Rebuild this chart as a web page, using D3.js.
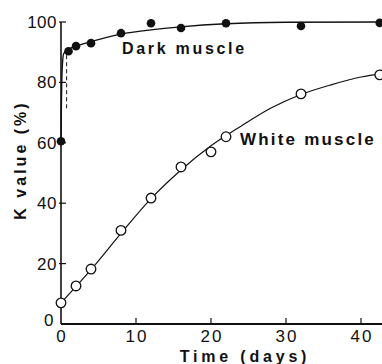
<!DOCTYPE html>
<html>
<head>
<meta charset="utf-8">
<script src="https://cdn.jsdelivr.net/npm/d3@7"></script>
<style>
  body { margin: 0; background: #fff; }
  text { font-family: "Liberation Sans", Arial, sans-serif; fill: #111; }
</style>
</head>
<body>
<div id="chart"></div>
<script>
// measured points (days, K value %)
const darkDays = [0, 1, 2, 4, 8, 12, 16, 22, 32, 42.5];
const darkValues = [60.5, 90.3, 92, 93, 96.3, 99.6, 98, 99.6, 98.7, 99.7];
const whiteDays = [0, 2, 4, 8, 12, 16, 20, 22, 32, 42.5];
const whiteValues = [7, 12.6, 18.2, 31, 41.7, 52, 57, 62, 76.2, 82.5];

// fitted curves as drawn in the figure
const darkFitDays = [0, 0.05, 0.15, 0.35, 1, 2, 4, 8, 12, 16, 22, 30, 43];
const darkFitValues = [60.5, 72, 84, 89.5, 91, 92, 93.5, 96, 97.4, 98.4, 99.4, 99.9, 100];
const whiteFitDays = [0, 4, 8, 12, 16, 20, 24, 28, 32, 36, 40, 43];
const whiteFitValues = [7, 18, 30, 41.5, 51, 59, 65.5, 71.5, 76, 79.2, 81.8, 83];

// dashed segment near day 1
const dashDays = [0.75, 0.75];
const dashValues = [89, 71];

const xTicks = [0, 10, 20, 30, 40];
const yTicks = [0, 20, 40, 60, 80, 100];

const width = 382, height = 364;
const margin = { top: 22, right: 0, bottom: 40, left: 61 };

const svg = d3.select("#chart").append("svg")
    .attr("width", width)
    .attr("height", height);

const x = d3.scaleLinear().domain([0, 10]).range([margin.left, margin.left + 75]);
const y = d3.scaleLinear().domain([0, 100]).range([height - margin.bottom, margin.top]);

// axes
svg.append("line")
    .attr("x1", x(0)).attr("x2", width)
    .attr("y1", y(0)).attr("y2", y(0))
    .attr("stroke", "#111").attr("stroke-width", 2);
svg.append("line")
    .attr("x1", x(0)).attr("x2", x(0))
    .attr("y1", y(0)).attr("y2", y(100))
    .attr("stroke", "#111").attr("stroke-width", 1.6);

svg.selectAll(".xtick").data(xTicks.slice(1)).enter().append("line")
    .attr("x1", d => x(d)).attr("x2", d => x(d))
    .attr("y1", y(0)).attr("y2", y(0) - 6)
    .attr("stroke", "#111").attr("stroke-width", 1.2);

svg.selectAll(".ytick").data(yTicks.slice(1)).enter().append("line")
    .attr("x1", x(0) - 2).attr("x2", x(0) + 5)
    .attr("y1", d => y(d)).attr("y2", d => y(d))
    .attr("stroke", "#111").attr("stroke-width", 1.2);

svg.selectAll(".xlabel").data(xTicks).enter().append("text")
    .attr("x", d => x(d) + 1)
    .attr("y", y(0) + 18)
    .attr("text-anchor", "middle")
    .style("font-size", "17px")
    .style("letter-spacing", "2px")
    .text(d => d);

svg.selectAll(".ylabel").data(yTicks).enter().append("text")
    .attr("x", d => d === 0 ? x(0) - 7 : x(0) - 4)
    .attr("y", d => d === 0 ? y(d) + 2 : y(d) + 6)
    .attr("text-anchor", "end")
    .style("font-size", "17px")
    .style("letter-spacing", "0.5px")
    .text(d => d);

// axis titles
svg.append("text")
    .attr("x", 245).attr("y", 362)
    .attr("text-anchor", "middle")
    .style("font-size", "16px").style("font-weight", "bold")
    .style("letter-spacing", "3.8px")
    .text("Time (days)");

svg.append("text")
    .attr("transform", `translate(26,160) rotate(-90)`)
    .attr("text-anchor", "middle")
    .style("font-size", "16px").style("font-weight", "bold")
    .style("letter-spacing", "3px")
    .text("K value (%)");

// curves
const line = d3.line()
    .x(d => x(d[0]))
    .y(d => y(d[1]))
    .curve(d3.curveMonotoneX);

svg.append("path")
    .datum(darkFitDays.map((d, i) => [d, darkFitValues[i]]))
    .attr("d", line)
    .attr("fill", "none").attr("stroke", "#111").attr("stroke-width", 1.4);

svg.append("path")
    .datum(whiteFitDays.map((d, i) => [d, whiteFitValues[i]]))
    .attr("d", line)
    .attr("fill", "none").attr("stroke", "#111").attr("stroke-width", 1.2);

svg.append("path")
    .datum(dashDays.map((d, i) => [d, dashValues[i]]))
    .attr("d", d3.line().x(d => x(d[0])).y(d => y(d[1])))
    .attr("fill", "none").attr("stroke", "#111").attr("stroke-width", 1)
    .attr("stroke-dasharray", "4,3");

// points
svg.selectAll(".dark").data(darkDays).enter().append("circle")
    .attr("cx", d => x(d))
    .attr("cy", (d, i) => y(darkValues[i]))
    .attr("r", 4.3)
    .attr("fill", "#111");

svg.selectAll(".white").data(whiteDays).enter().append("circle")
    .attr("cx", d => x(d))
    .attr("cy", (d, i) => y(whiteValues[i]))
    .attr("r", 4.8)
    .attr("fill", "#fff")
    .attr("stroke", "#111").attr("stroke-width", 1.3);

// series labels
svg.append("text")
    .attr("x", 122).attr("y", 54)
    .style("font-size", "16px").style("font-weight", "bold")
    .style("letter-spacing", "2.7px")
    .text("Dark muscle");

svg.append("text")
    .attr("x", 240).attr("y", 145)
    .style("font-size", "17px").style("font-weight", "bold")
    .style("letter-spacing", "2.2px")
    .text("White muscle");
</script>
</body>
</html>
